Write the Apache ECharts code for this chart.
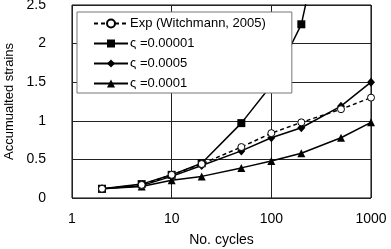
<!DOCTYPE html>
<html>
<head>
<meta charset="utf-8">
<script src="https://cdn.jsdelivr.net/npm/echarts@6/dist/echarts.min.js"></script>
<style>
  html, body { margin: 0; padding: 0; background: #fff; }
  #main { width: 391px; height: 249px; }
</style>
</head>
<body>
<div id="main"></div>
<script>
// 数据
const cycles = [2, 5, 10, 20, 50, 100, 200, 500, 1000];
const expData = [0.12, 0.17, 0.3, 0.44, 0.66, 0.84, 0.98, 1.15, 1.3];
const s00001 = [0.12, 0.18, 0.3, 0.45, 0.97, 1.46, 2.25, 4.6];
const s0005 = [0.12, 0.16, 0.28, 0.42, 0.61, 0.78, 0.91, 1.19, 1.5];
const s0001 = [0.12, 0.15, 0.23, 0.28, 0.39, 0.48, 0.58, 0.78, 0.98];
const xTicks = ['1', '10', '100', '1000'];
const seriesNames = ['Exp (Witchmann, 2005)', 'ς =0.00001', 'ς =0.0005', 'ς =0.0001'];

const pairs = (ys) => ys.map((v, i) => [cycles[i], v]);
const font = 'Liberation Sans, Arial, sans-serif';

const myChart = echarts.init(document.getElementById('main'));

let option = {
  animation: false,
  grid: {
    left: 72, right: 20, top: 5, bottom: 51,
    outerBoundsMode: 'none', containLabel: false,
    show: true, borderColor: '#000', borderWidth: 1
  },
  legend: {
    orient: 'vertical',
    left: 77,
    top: 12,
    padding: [4, 26, 2, 16],
    itemGap: 5,
    itemWidth: 34,
    itemHeight: 10,
    z: 10,
    backgroundColor: '#fff',
    borderColor: '#777',
    borderWidth: 1,
    textStyle: { fontFamily: font, fontSize: 13, lineHeight: 15, color: '#000', padding: [0, 0, 0, -3] },
    data: seriesNames
  },
  xAxis: {
    type: 'log',
    logBase: 10,
    min: 1,
    max: 1000,
    name: 'No. cycles',
    nameLocation: 'middle',
    nameGap: 35,
    nameTextStyle: { fontFamily: font, fontSize: 14, color: '#000' },
    axisLine: { show: false },
    axisTick: { show: false },
    axisLabel: {
      fontFamily: font, fontSize: 14, color: '#000', margin: 14,
      formatter: (v) => xTicks[Math.round(Math.log10(v))]
    },
    splitLine: { show: true, lineStyle: { color: '#222', width: 1 } },
    minorTick: { show: false }
  },
  yAxis: {
    type: 'value',
    min: 0,
    max: 2.5,
    interval: 0.5,
    name: 'Accumualted strains',
    nameLocation: 'middle',
    nameGap: 45,
    nameTextStyle: { fontFamily: font, fontSize: 13, color: '#000' },
    axisLine: { show: false },
    axisTick: { show: false },
    axisLabel: { fontFamily: font, fontSize: 14, color: '#000', margin: 26, align: 'right' },
    splitLine: { show: true, lineStyle: { color: '#222', width: 1 } }
  },
  series: [
    {
      name: seriesNames[0], type: 'line', data: pairs(expData), z: 5,
      symbol: 'circle', symbolSize: 7,
      lineStyle: { color: '#000', width: 1.5, type: [4, 3] },
      itemStyle: { color: '#fff', borderColor: '#000', borderWidth: 1 }
    },
    {
      name: seriesNames[1], type: 'line', data: pairs(s00001), clip: true,
      symbol: 'rect', symbolSize: 8,
      lineStyle: { color: '#000', width: 1.5 },
      itemStyle: { color: '#000' }
    },
    {
      name: seriesNames[2], type: 'line', data: pairs(s0005),
      symbol: 'diamond', symbolSize: [8, 9],
      lineStyle: { color: '#000', width: 1.5 },
      itemStyle: { color: '#000' }
    },
    {
      name: seriesNames[3], type: 'line', data: pairs(s0001),
      symbol: 'triangle', symbolSize: 8,
      lineStyle: { color: '#000', width: 1.5 },
      itemStyle: { color: '#000' }
    }
  ]
};

myChart.setOption(option);
</script>
</body>
</html>
